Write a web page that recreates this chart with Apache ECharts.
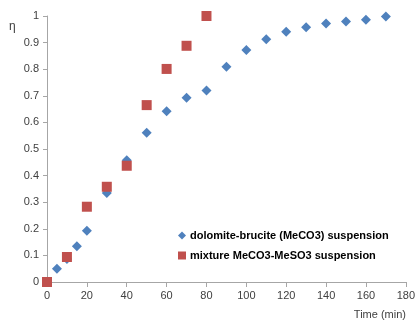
<!DOCTYPE html>
<html>
<head>
<meta charset="utf-8">
<script src="https://cdn.jsdelivr.net/npm/echarts@6/dist/echarts.min.js"></script>
<style>html,body{margin:0;padding:0;background:#fff}#c{width:418px;height:320px}</style>
</head>
<body>
<div id="c"></div>
<script>
var seriesNames = ['dolomite-brucite (MeCO3) suspension', 'mixture MeCO3-MeSO3 suspension'];
var blueX = [0, 5, 10, 15, 20, 30, 40, 50, 60, 70, 80, 90, 100, 110, 120, 130, 140, 150, 160, 170];
var blueY = [0, 0.05, 0.086, 0.134, 0.193, 0.335, 0.458, 0.561, 0.642, 0.693, 0.72, 0.809, 0.872, 0.913, 0.941, 0.958, 0.972, 0.979, 0.986, 0.998];
var redX = [0, 10, 20, 30, 40, 50, 60, 70, 80];
var redY = [0, 0.094, 0.283, 0.358, 0.437, 0.665, 0.801, 0.888, 1.0];
var xTitle = 'Time (min)';
var yTitle = 'η';

function pairs(xs, ys) { return xs.map(function (x, i) { return [x, ys[i]]; }); }

var chart = echarts.init(document.getElementById('c'));
var axisText = { color: '#404040', fontSize: 11, fontFamily: 'Liberation Sans, Arial, sans-serif' };
chart.setOption({
  animation: false,
  grid: { left: 47, right: 11, top: 16, bottom: 38, containLabel: false },
  xAxis: {
    type: 'value', min: 0, max: 180, interval: 20,
    axisLine: { show: true, lineStyle: { color: '#a6a6a6', width: 1 } },
    axisTick: { show: true, inside: false, length: 5, lineStyle: { color: '#a6a6a6' } },
    axisLabel: Object.assign({ margin: 8 }, axisText),
    splitLine: { show: false }
  },
  yAxis: {
    type: 'value', min: 0, max: 1, interval: 0.1,
    axisLine: { show: true, lineStyle: { color: '#a6a6a6', width: 1 } },
    axisTick: { show: true, inside: false, length: 4, lineStyle: { color: '#a6a6a6' } },
    axisLabel: Object.assign({ margin: 8, formatter: function (v) { return String(Math.round(v * 10) / 10); } }, axisText),
    splitLine: { show: false }
  },
  legend: {
    orient: 'vertical', left: 173, top: 225, itemGap: 9, itemWidth: 8, itemHeight: 8,
    textStyle: { color: '#000', fontSize: 11, fontWeight: 'bold', fontFamily: 'Liberation Sans, Arial, sans-serif', padding: [0, 0, 0, -1] },
    data: [
      { name: seriesNames[0], icon: 'diamond', itemStyle: { color: '#4F81BD' } },
      { name: seriesNames[1], icon: 'rect', itemStyle: { color: '#C0504D' } }
    ]
  },
  graphic: [
    { type: 'text', left: 9, top: 21, style: { text: yTitle, fill: '#404040', font: '12px Liberation Sans, Arial, sans-serif' } },
    { type: 'text', right: 12, top: 309, style: { text: xTitle, fill: '#404040', font: '11px Liberation Sans, Arial, sans-serif' } }
  ],
  series: [
    { name: seriesNames[0], type: 'scatter', symbol: 'diamond', symbolSize: 10, itemStyle: { color: '#4F81BD', opacity: 1 }, data: pairs(blueX, blueY), z: 2 },
    { name: seriesNames[1], type: 'scatter', symbol: 'rect', symbolSize: 10, itemStyle: { color: '#C0504D', opacity: 1 }, data: pairs(redX, redY), z: 3 }
  ]
});
</script>
</body>
</html>
